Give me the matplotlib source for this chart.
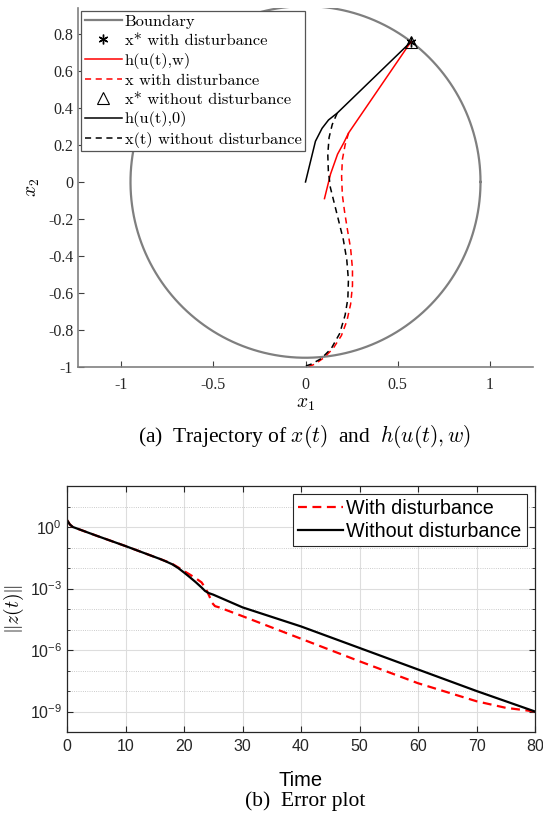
import numpy as np
import matplotlib.pyplot as plt
from matplotlib.ticker import FixedLocator, LogLocator, NullFormatter

plt.rcParams['mathtext.fontset'] = 'cm'
plt.rcParams['axes.unicode_minus'] = False

# ---- data: trajectories (top panel) ----
circle_r = 0.95
xstar = [0.572]
ystar = [0.757]

h0_x = [0.0, 0.027, 0.054, 0.09, 0.125, 0.172, 0.572]
h0_y = [0.0, 0.11, 0.22, 0.29, 0.335, 0.372, 0.757]

hw_x = [0.103, 0.136, 0.174, 0.207, 0.234, 0.572]
hw_y = [-0.09, 0.043, 0.15, 0.21, 0.265, 0.757]

x0_x = [0.172, 0.145, 0.128, 0.121, 0.124, 0.135, 0.155, 0.18, 0.205, 0.224,
        0.233, 0.23, 0.215, 0.185, 0.14, 0.085, 0.03, 0.0]
x0_y = [0.372, 0.31, 0.24, 0.15, 0.06, -0.03, -0.11, -0.21, -0.31, -0.42,
        -0.53, -0.63, -0.72, -0.82, -0.9, -0.955, -0.985, -0.995]

xw_x = [0.234, 0.215, 0.2, 0.196, 0.2, 0.212, 0.228, 0.245, 0.255, 0.255,
        0.245, 0.225, 0.195, 0.15, 0.1, 0.05, 0.01]
xw_y = [0.265, 0.2, 0.12, 0.03, -0.07, -0.16, -0.26, -0.36, -0.47, -0.56,
        -0.66, -0.75, -0.83, -0.9, -0.95, -0.985, -1.0]

# ---- data: error norms (bottom panel), log10 values ----
t_wo = [0, 0.5, 1, 5, 10, 16, 17, 18, 19, 20, 21, 22, 23, 23.6, 24.2, 25,
        30, 40, 50, 60, 70, 80]
log_wo = [0.34, 0.12, 0.0, -0.42, -0.93, -1.57, -1.69, -1.82, -2.0, -2.22,
          -2.45, -2.69, -2.95, -3.12, -3.22, -3.3, -3.92, -4.85, -5.9, -6.95,
          -8.0, -9.0]

t_w = [0, 0.5, 1, 5, 10, 16, 17, 18, 19, 20, 21, 22, 23, 23.7, 24.3, 24.8,
       25.3, 26, 30, 40, 50, 60, 70, 75, 80]
log_w = [0.34, 0.12, 0.0, -0.42, -0.93, -1.57, -1.68, -1.8, -1.97, -2.15,
         -2.32, -2.5, -2.7, -3.0, -3.35, -3.7, -3.86, -3.92, -4.35, -5.45,
         -6.55, -7.62, -8.5, -8.82, -9.0]

fig = plt.figure(figsize=(5.43, 8.16), dpi=100)

# ================= top panel =================
ax1 = fig.add_axes([78/543, 1-367/816, 455/543, 359/816])
th = np.linspace(0, 2*np.pi, 400)
ax1.plot(circle_r*np.cos(th), circle_r*np.sin(th), color='#7f7f7f', lw=1.6,
         label='Boundary')
ax1.plot(xstar, ystar, ls='none', marker=(6, 2, 0), color='k', ms=7, mew=1.0,
         label='x* with disturbance')
ax1.plot(hw_x, hw_y, color='r', lw=1.1, label='h(u(t),w)')
ax1.plot(xw_x, xw_y, color='r', lw=1.1, ls=(0, (4, 3)), label='x with disturbance')
ax1.plot(xstar, ystar, ls='none', marker='^', mfc='none', mec='k', ms=8, mew=0.8,
         label='x* without disturbance')
ax1.plot(h0_x, h0_y, color='k', lw=1.1, label='h(u(t),0)')
ax1.plot(x0_x, x0_y, color='k', lw=1.1, ls=(0, (4, 3)), label='x(t) without disturbance')

ax1.set_xlim(-1.235, 1.235)
ax1.set_ylim(-1, 0.94)
ax1.set_xticks([-1, -0.5, 0, 0.5, 1])
ax1.set_xticklabels(['-1', '-0.5', '0', '0.5', '1'])
ax1.set_yticks([-1, -0.8, -0.6, -0.4, -0.2, 0, 0.2, 0.4, 0.6, 0.8])
ax1.set_yticklabels(['-1', '-0.8', '-0.6', '-0.4', '-0.2', '0', '0.2', '0.4', '0.6', '0.8'])
for s in ['top', 'right']:
    ax1.spines[s].set_visible(False)
for s in ['left', 'bottom']:
    ax1.spines[s].set_color('#808080')
    ax1.spines[s].set_linewidth(1.2)
ax1.tick_params(direction='in', length=4, color='#404040', labelsize=11.5,
                labelcolor='#262626')
ax1.tick_params(axis='x', pad=7)
for lab in ax1.get_xticklabels() + ax1.get_yticklabels():
    lab.set_family('Liberation Serif')
ax1.set_xlabel('$x_1$', fontsize=14, labelpad=1)
ax1.set_ylabel('$x_2$', fontsize=14, labelpad=4)

leg1 = ax1.legend(loc='upper left', bbox_to_anchor=(0.0, 1.0),
                  prop={'family': ['cmr10', 'DejaVu Serif'], 'size': 11.8},
                  handlelength=2.3, handletextpad=0.15, labelspacing=0.28,
                  borderpad=0.2, borderaxespad=0.2, fancybox=False, framealpha=1)
leg1.get_frame().set_edgecolor('#555555')
leg1.get_frame().set_linewidth(0.9)

fig.text(305/543, 1-437/816, '(a)  Trajectory of $x(t)$  and  $h(u(t),w)$',
         ha='center', va='center', fontsize=15.5, family='Liberation Serif')

# ================= bottom panel =================
ax2 = fig.add_axes([67/543, 1-732/816, 468/543, 246/816])
ax2.semilogy(t_w, 10**np.array(log_w), color='r', lw=1.6, ls=(0, (4, 2.5)),
             label='With disturbance')
ax2.semilogy(t_wo, 10**np.array(log_wo), color='k', lw=1.6,
             label='Without disturbance')
ax2.set_xlim(0, 80)
ax2.set_ylim(1e-10, 1e2)
ax2.set_xticks(range(0, 81, 10))
ax2.yaxis.set_major_locator(FixedLocator([1e-9, 1e-6, 1e-3, 1e0]))
ax2.yaxis.set_minor_locator(LogLocator(base=10, subs=(1.0,), numticks=30))
ax2.yaxis.set_minor_formatter(NullFormatter())
ax2.grid(True, which='major', color='#dddddd', lw=0.8, ls='-')
ax2.grid(True, which='minor', axis='y', color='#bbbbbb', lw=0.6, ls=':')
ax2.set_axisbelow(True)
ax2.tick_params(which='both', direction='in', top=True, right=True,
                labelsize=11.5, color='#262626', labelcolor='#262626')
ax2.tick_params(which='major', length=4)
ax2.tick_params(which='minor', length=2.5)
ax2.tick_params(axis='x', pad=5)
for s in ax2.spines.values():
    s.set_color('#262626')
    s.set_linewidth(0.9)
for lab in ax2.get_xticklabels() + ax2.get_yticklabels():
    lab.set_family('Liberation Sans')
ax2.set_xlabel('Time', fontsize=14.5, family='Liberation Sans', labelpad=12)
ax2.set_ylabel(r'$\|z(t)\|$', fontsize=14, labelpad=3)

leg2 = ax2.legend(loc='upper right', bbox_to_anchor=(0.982, 0.967),
                  prop={'family': 'Liberation Sans', 'size': 14.2},
                  handlelength=2.3, handletextpad=0.15, labelspacing=0.22,
                  borderpad=0.25, borderaxespad=0.0, fancybox=False, framealpha=1)
leg2.get_frame().set_edgecolor('#262626')
leg2.get_frame().set_linewidth(0.8)

fig.text(305/543, 1-801/816, '(b)  Error plot', ha='center', va='center',
         fontsize=15.5, family='Liberation Serif')

fig.savefig('out.png', dpi=100)
